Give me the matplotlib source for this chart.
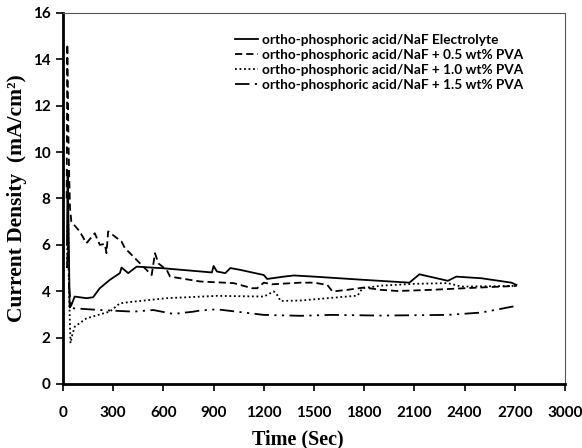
import matplotlib
matplotlib.use("Agg")
import matplotlib.pyplot as plt

# time (s) and current density (mA/cm2)
t_base = [24, 28, 34, 40, 50, 70, 140, 180, 220, 280, 340, 350, 390, 440, 600,
          890, 900, 920, 970, 1000, 1060, 1200, 1220, 1320, 1380, 1500, 1800,
          2070, 2130, 2300, 2350, 2500, 2680, 2710]
j_base = [6.0, 9.2, 6.5, 3.3, 3.4, 3.77, 3.7, 3.74, 4.13, 4.49, 4.78, 5.02,
          4.78, 5.06, 4.99, 4.81, 5.09, 4.85, 4.78, 5.0, 4.92, 4.7, 4.53, 4.63,
          4.68, 4.63, 4.49, 4.37, 4.73, 4.45, 4.63, 4.56, 4.37, 4.27]

t_pva05 = [22, 26, 32, 36, 42, 50, 100, 140, 190, 220, 250, 260, 270, 310, 350,
           370, 420, 480, 530, 550, 570, 620, 640, 820, 1020, 1130, 1160, 1200,
           1250, 1420, 1500, 1580, 1610, 1700, 1800, 1900, 2000, 2200, 2400, 2710]
j_pva05 = [8.0, 14.65, 11.0, 9.3, 7.6, 7.0, 6.58, 6.07, 6.5, 6.0, 6.04, 5.64,
           6.58, 6.36, 6.14, 5.86, 5.5, 5.06, 4.7, 5.64, 5.2, 4.92, 4.63, 4.42,
           4.35, 4.13, 4.13, 4.37, 4.3, 4.37, 4.37, 4.27, 3.99, 4.06, 4.16,
           4.06, 4.01, 4.06, 4.13, 4.23]

t_pva10 = [24, 30, 36, 45, 55, 70, 140, 220, 280, 340, 420, 620, 920, 1200,
           1260, 1280, 1300, 1420, 1760, 1790, 1900, 2100, 2300, 2380, 2710]
j_pva10 = [5.0, 7.8, 4.0, 1.76, 2.1, 2.47, 2.83, 3.0, 3.12, 3.48, 3.55, 3.7,
           3.8, 3.77, 3.99, 3.84, 3.58, 3.6, 3.81, 4.13, 4.24, 4.32, 4.35,
           4.2, 4.23]

t_pva15 = [24, 30, 36, 50, 220, 420, 540, 660, 780, 820, 920, 1200, 1420,
           1600, 1900, 2300, 2500, 2710]
j_pva15 = [5.0, 6.2, 4.2, 3.27, 3.19, 3.12, 3.19, 3.02, 3.12, 3.17, 3.22,
           2.98, 2.94, 2.98, 2.95, 2.98, 3.08, 3.37]

labels = ["ortho-phosphoric acid/NaF Electrolyte",
          "ortho-phosphoric acid/NaF + 0.5 wt% PVA",
          "ortho-phosphoric acid/NaF + 1.0 wt% PVA",
          "ortho-phosphoric acid/NaF + 1.5 wt% PVA"]

x_ticks = list(range(0, 3001, 300))
y_ticks = list(range(0, 17, 2))

fig = plt.figure(figsize=(5.82, 4.48), dpi=100)
ax = fig.add_axes([0.1082, 0.1429, 0.8626, 0.8281])

lw = 1.3
ax.plot(t_base, j_base, color="black", lw=lw, linestyle="-", label=labels[0])
ax.plot(t_pva05, j_pva05, color="black", lw=lw, linestyle=(0, (4, 2.2)), label=labels[1])
ax.plot(t_pva10, j_pva10, color="black", lw=lw, linestyle=(0, (1, 1.5)), label=labels[2])
ax.plot(t_pva15, j_pva15, color="black", lw=lw,
        linestyle=(0, (8, 3, 1.2, 3, 1.2, 3)), label=labels[3])

ax.set_xlim(0, 3000)
ax.set_ylim(0, 16)
ax.set_xticks(x_ticks)
ax.set_yticks(y_ticks)

tick_font = {"family": "Lato", "weight": "bold", "size": 11}
ax.set_xticklabels([str(v) for v in x_ticks], fontdict=tick_font)
ax.set_yticklabels([str(v) for v in y_ticks], fontdict=tick_font)
ax.tick_params(axis="x", direction="out", length=5, width=1.2, pad=11)
ax.tick_params(axis="y", direction="out", length=5, width=1.2, pad=4)

ax.spines["left"].set_linewidth(2.0)
ax.spines["bottom"].set_linewidth(2.0)
ax.spines["top"].set_linewidth(0.8)
ax.spines["right"].set_linewidth(0.8)
ax.spines["top"].set_color("#555555")
ax.spines["right"].set_color("#555555")

ax.set_xlabel("Time (Sec)", family="Liberation Serif", weight="bold", size=14.5)
ax.set_ylabel("Current Density  (mA/cm²)", family="Liberation Serif",
              weight="bold", size=15.5)
ax.xaxis.set_label_coords(0.468, -0.122)
ax.yaxis.set_label_coords(-0.072, 0.5)

leg = ax.legend(loc="upper left", bbox_to_anchor=(0.326, 0.965), frameon=False,
                prop={"family": "Lato", "weight": "bold", "size": 9.85},
                handlelength=1.7, handletextpad=0.25, labelspacing=0.22,
                borderaxespad=0.2)

fig.savefig("out.png", dpi=100)
